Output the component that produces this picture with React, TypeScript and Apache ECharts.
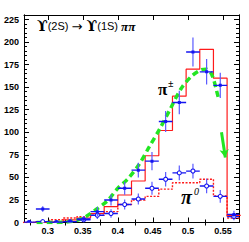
import React, { useEffect, useRef } from "react";
import * as echarts from "echarts";

// Bin edges of the m(pi pi) histograms (GeV)
const binEdges = [0.2635, 0.283, 0.3025, 0.322, 0.3415, 0.361, 0.3805, 0.4, 0.4195, 0.439, 0.4585, 0.478, 0.4975, 0.517, 0.5365, 0.556, 0.5755];
// MC histograms
const mcCharged = [0, 0.5, 1, 3, 5, 10, 17.5, 30.5, 46, 74, 102, 140, 170, 192, 160, 8];
const mcNeutral = [0, 1, 3, 5, 6.5, 8, 12, 20, 25, 29, 37, 44, 44, 48, 29.5, 5];
// Data points
const dataCharged = [0, 15, 0, 1, 4, 12, 25, 38, 58, 68, 112, 133, 189, 167, 152, 9];
const errCharged = [0, 2, 0.5, 1, 2, 4, 5, 6, 7, 9, 10.5, 12, 15, 13, 13, 3];
const dataNeutral = [0, 1, 0, 1, 3, 8, 10, 20, 26, 38, 48, 55, 57, 40.5, 29, 6.5];
const errNeutral = [0, 1, 0.5, 1, 2, 3, 3.5, 4.5, 5, 6, 7, 7, 7, 7, 6, 3];
// Theory curve (pi+ pi-)
const theoryX = [0.284, 0.3, 0.32, 0.34, 0.355, 0.37, 0.385, 0.4, 0.415, 0.43, 0.445, 0.46, 0.475, 0.49, 0.505, 0.518, 0.526, 0.532, 0.537, 0.541, 0.544];
const theoryY = [0, 0, 0.3, 2, 7, 15, 24, 38, 49, 64, 84, 104, 126, 148, 162, 169, 170, 167, 158, 146, 137];
// Arrow at the end of the theory curve
const arrowX = [0.548, 0.5535];
const arrowY = [100, 72];
// Axis settings
const xMin = 0.266;
const xMax = 0.573;
const yMin = 0;
const yMax = 230;
const xMinorTicks = [0.275, 0.325, 0.375, 0.425, 0.475, 0.525];

const BLUE = "#1414f0";
const BLUE_V = "#5a5aff";
const RED = "#ff1a1a";
const GREEN = "#22e622";

function stepData(vals: number[]) {
  const d: number[][] = [];
  vals.forEach((v, i) => {
    d.push([binEdges[i], v]);
    d.push([binEdges[i + 1], v]);
  });
  return d;
}

function pointData(vals: number[], errs: number[]) {
  return vals.map((v, i) => [
    (binEdges[i] + binEdges[i + 1]) / 2,
    v,
    binEdges[i],
    binEdges[i + 1],
    errs[i],
  ]);
}

function makeRender(marker: "square" | "circle") {
  return (params: any, api: any) => {
    const x = api.value(0);
    const y = api.value(1);
    const xl = api.value(2);
    const xr = api.value(3);
    const e = api.value(4);
    const c = api.coord([x, y]);
    const l = api.coord([xl, y]);
    const r = api.coord([xr, y]);
    const t = api.coord([x, y + e]);
    const b = api.coord([x, Math.max(0, y - e)]);
    const children: any[] = [
      { type: "line", shape: { x1: l[0], y1: c[1], x2: r[0], y2: c[1] }, style: { stroke: BLUE, lineWidth: 1.4 } },
      { type: "line", shape: { x1: c[0], y1: t[1] - 1, x2: c[0], y2: b[1] + 1 }, style: { stroke: BLUE_V, lineWidth: 1.2 } },
    ];
    if (marker === "square") {
      children.push({ type: "rect", shape: { x: c[0] - 1.5, y: c[1] - 1.5, width: 3, height: 3 }, style: { fill: BLUE } });
    } else {
      children.push({ type: "circle", shape: { cx: c[0], cy: c[1], r: 2 }, style: { fill: "#ffffff", stroke: BLUE, lineWidth: 1.1 } });
    }
    return { type: "group", children };
  };
}

const tickFont = { fontSize: 9, fontWeight: "bold" as const, fontFamily: "Liberation Sans", color: "#000" };

function xAxisBase(position: "bottom" | "top", labels: boolean) {
  return {
    type: "value" as const,
    position,
    min: xMin,
    max: xMax,
    splitNumber: 6,
    axisLine: { show: true, onZero: false, lineStyle: { color: "#000", width: 1 } },
    axisTick: { show: true, inside: true, length: 5, lineStyle: { color: "#000", width: 1 } },
    splitLine: { show: false },
    axisLabel: labels
      ? { show: true, showMinLabel: false, showMaxLabel: false, margin: 4, ...tickFont }
      : { show: false },
  };
}

function xMinorAxis(position: "bottom" | "top") {
  return {
    type: "value" as const,
    position,
    min: xMin,
    max: xMax,
    splitNumber: 6,
    axisLine: { show: false },
    axisTick: { show: true, inside: true, length: 3, customValues: xMinorTicks, lineStyle: { color: "#000", width: 1 } },
    splitLine: { show: false },
    axisLabel: { show: false },
  };
}

function yAxisBase(position: "left" | "right", interval: number, len: number, labels: boolean) {
  return {
    type: "value" as const,
    position,
    min: yMin,
    max: yMax,
    interval,
    axisLine: { show: true, onZero: false, lineStyle: { color: "#000", width: 1 } },
    axisTick: { show: true, inside: true, length: len, lineStyle: { color: "#000", width: 1 } },
    splitLine: { show: false },
    axisLabel: labels ? { show: true, showMaxLabel: false, margin: 5, ...tickFont } : { show: false },
  };
}

export default function App() {
  const ref = useRef<HTMLDivElement>(null);
  useEffect(() => {
    if (!ref.current) return;
    const chart = echarts.init(ref.current, undefined, { renderer: "svg" });
    const option: any = {
      animation: false,
      backgroundColor: "#ffffff",
      grid: { left: 24, right: 10, top: 15, bottom: 19.5, containLabel: false },
      xAxis: [xAxisBase("bottom", true), xAxisBase("top", false), xMinorAxis("bottom"), xMinorAxis("top")],
      yAxis: [
        yAxisBase("left", 25, 5, true),
        yAxisBase("right", 25, 5, false),
        yAxisBase("left", 5, 3, false),
        yAxisBase("right", 5, 3, false),
      ],
      series: [
        {
          type: "line",
          name: "MC pi0",
          data: stepData(mcNeutral),
          symbol: "none",
          lineStyle: { color: RED, width: 1.4, type: [2, 1.5] },
          z: 2,
        },
        {
          type: "line",
          name: "MC pi+-",
          data: stepData(mcCharged),
          symbol: "none",
          lineStyle: { color: RED, width: 1.2 },
          z: 3,
        },
        {
          type: "line",
          name: "theory",
          data: theoryX.map((x, i) => [x, theoryY[i]]),
          smooth: 0.3,
          symbol: "none",
          lineStyle: { color: GREEN, width: 3.5, type: [6, 4], cap: "butt" },
          z: 4,
          markLine: {
            silent: true,
            symbol: ["none", "arrow"],
            symbolSize: [7, 8],
            label: { show: false },
            lineStyle: { color: GREEN, width: 3, type: "solid" },
            data: [[{ coord: [arrowX[0], arrowY[0]] }, { coord: [arrowX[1], arrowY[1]] }]],
          },
        },
        {
          type: "custom",
          name: "data pi0",
          data: pointData(dataNeutral, errNeutral),
          renderItem: makeRender("circle"),
          clip: true,
          z: 5,
        },
        {
          type: "custom",
          name: "data pi+-",
          data: pointData(dataCharged, errCharged),
          renderItem: makeRender("square"),
          clip: true,
          z: 6,
        },
      ],
      graphic: [
        {
          type: "text",
          x: 37,
          y: 26,
          style: {
            text: "{u|ϒ}{s|(2S) }{a|→ }{u|ϒ}{s|(1S) }{p|ππ}",
            textVerticalAlign: "middle",
            verticalAlign: "middle",
            rich: {
              u: { fontFamily: "DejaVu Serif", fontWeight: "bold", fontSize: 14, fill: "#000" },
              s: { fontFamily: "Liberation Sans", fontSize: 11, fill: "#000" },
              a: { fontFamily: "DejaVu Sans", fontSize: 13, fill: "#000" },
              p: { fontFamily: "Liberation Serif", fontStyle: "italic", fontWeight: "bold", fontSize: 13, fill: "#000" },
            },
          },
        },
        {
          type: "text",
          x: 158,
          y: 89,
          style: { text: "π", fontFamily: "Liberation Serif", fontWeight: "bold", fontSize: 17, fill: "#000", textVerticalAlign: "middle", verticalAlign: "middle" },
        },
        {
          type: "text",
          x: 168,
          y: 83,
          style: { text: "±", fontFamily: "Liberation Serif", fontWeight: "bold", fontSize: 10, fill: "#000", textVerticalAlign: "middle", verticalAlign: "middle" },
        },
        {
          type: "text",
          x: 181,
          y: 197,
          style: { text: "π", fontFamily: "Liberation Serif", fontStyle: "italic", fontWeight: "bold", fontSize: 20, fill: "#000", textVerticalAlign: "middle", verticalAlign: "middle" },
        },
        {
          type: "text",
          x: 194,
          y: 191,
          style: { text: "0", fontFamily: "Liberation Serif", fontStyle: "italic", fontSize: 10, fill: "#000", textVerticalAlign: "middle", verticalAlign: "middle" },
        },
      ],
    };
    chart.setOption(option);
    return () => chart.dispose();
  }, []);
  return <div ref={ref} style={{ position: "absolute", left: 0, top: 0, width: 249, height: 242 }} />;
}
